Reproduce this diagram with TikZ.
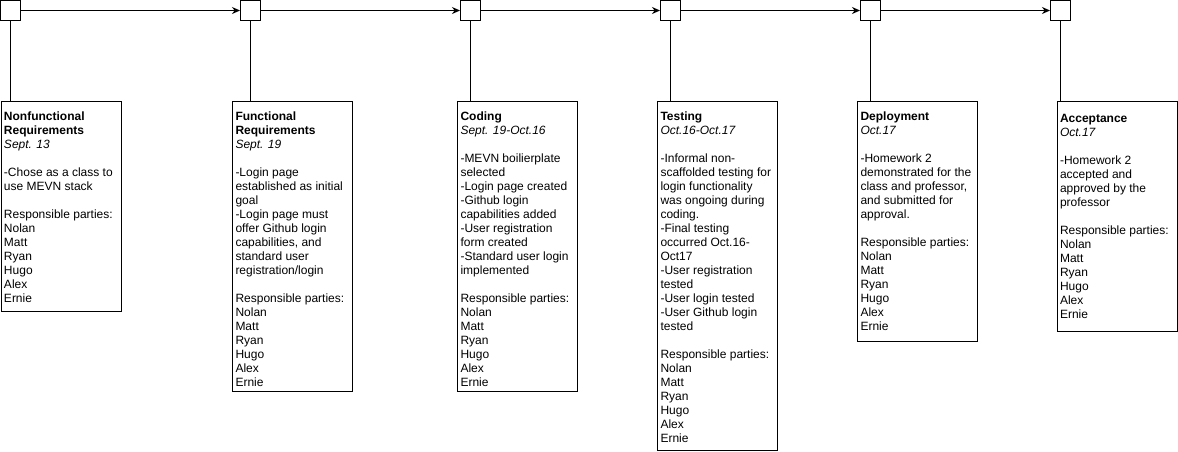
\documentclass[tikz,border=0pt]{standalone}
\usepackage{fontspec}
\setmainfont{Liberation Sans}
\usetikzlibrary{arrows.meta}

\begin{document}
\begin{tikzpicture}
  [x=1pt,y=-1pt,line width=1pt,
   mark box/.style={draw,minimum size=20pt,inner sep=0pt},
   phase/.style={draw,minimum width=120pt,anchor=north west,inner sep=0pt},
   info/.style={anchor=north west,align=left,inner xsep=3pt,inner ysep=0pt,yshift=-11pt,
     font=\fontsize{12pt}{14pt}\selectfont},
   arr/.style={-{Stealth[length=8pt,width=7pt]}}]
  \useasboundingbox (0,0) rectangle (1178,451);

  % milestones along the top
  \node[mark box] (m1) at (10.5,10.5) {};
  \node[mark box] (m2) at (250.5,10.5) {};
  \node[mark box] (m3) at (470.5,10.5) {};
  \node[mark box] (m4) at (670.5,10.5) {};
  \node[mark box] (m5) at (870.5,10.5) {};
  \node[mark box] (m6) at (1060.5,10.5) {};

  % phase boxes
  \node[phase,minimum height=210pt] (p1) at (0.5,100.5) {};
  \node[phase,minimum height=290pt] (p2) at (232,100.5) {};
  \node[phase,minimum height=290pt] (p3) at (457,100.5) {};
  \node[phase,minimum height=349pt] (p4) at (657,100.5) {};
  \node[phase,minimum height=240pt] (p5) at (857,100.5) {};
  \node[phase,minimum height=230pt] (p6) at (1056.5,100.5) {};

  \foreach \from/\to in {m1/m2, m2/m3, m3/m4, m4/m5, m5/m6}
    \draw[arr] (\from) -- (\to);

  \foreach \i in {1,...,6}
    \draw (m\i.south) -- (m\i.south |- p\i.north);

  \node[info] (t1) at (p1.north west) {\textbf{Nonfunctional}\\\textbf{Requirements}\\\textit{Sept. 13}\\~\\
    -Chose as a class to\\use MEVN stack\\~\\
    Responsible parties:\\Nolan\\Matt\\Ryan\\Hugo\\Alex\\Ernie};
  \node[info] (t2) at (p2.north west) {\textbf{Functional}\\\textbf{Requirements}\\\textit{Sept. 19}\\~\\
    -Login page\\established as initial\\goal\\-Login page must\\offer Github login\\
    capabilities, and\\standard user\\registration/login\\~\\
    Responsible parties:\\Nolan\\Matt\\Ryan\\Hugo\\Alex\\Ernie};
  \node[info] (t3) at (p3.north west) {\textbf{Coding}\\\textit{Sept. 19-Oct.16}\\~\\
    -MEVN boilierplate\\selected\\-Login page created\\-Github login\\capabilities added\\
    -User registration\\form created\\-Standard user login\\implemented\\~\\
    Responsible parties:\\Nolan\\Matt\\Ryan\\Hugo\\Alex\\Ernie};
  \node[info] (t4) at (p4.north west) {\textbf{Testing}\\\textit{Oct.16-Oct.17}\\~\\
    -Informal non-\\scaffolded testing for\\login functionality\\was ongoing during\\coding.\\
    -Final testing\\occurred Oct.16-\\Oct17\\-User registration\\tested\\-User login tested\\
    -User Github login\\tested\\~\\
    Responsible parties:\\Nolan\\Matt\\Ryan\\Hugo\\Alex\\Ernie};
  \node[info] (t5) at (p5.north west) {\textbf{Deployment}\\\textit{Oct.17}\\~\\
    -Homework 2\\demonstrated for the\\class and professor,\\and submitted for\\approval.\\~\\
    Responsible parties:\\Nolan\\Matt\\Ryan\\Hugo\\Alex\\Ernie};
  \node[info,yshift=-2pt] (t6) at (p6.north west) {\textbf{Acceptance}\\\textit{Oct.17}\\~\\
    -Homework 2\\accepted and\\approved by the\\professor\\~\\
    Responsible parties:\\Nolan\\Matt\\Ryan\\Hugo\\Alex\\Ernie};
\end{tikzpicture}
\end{document}
